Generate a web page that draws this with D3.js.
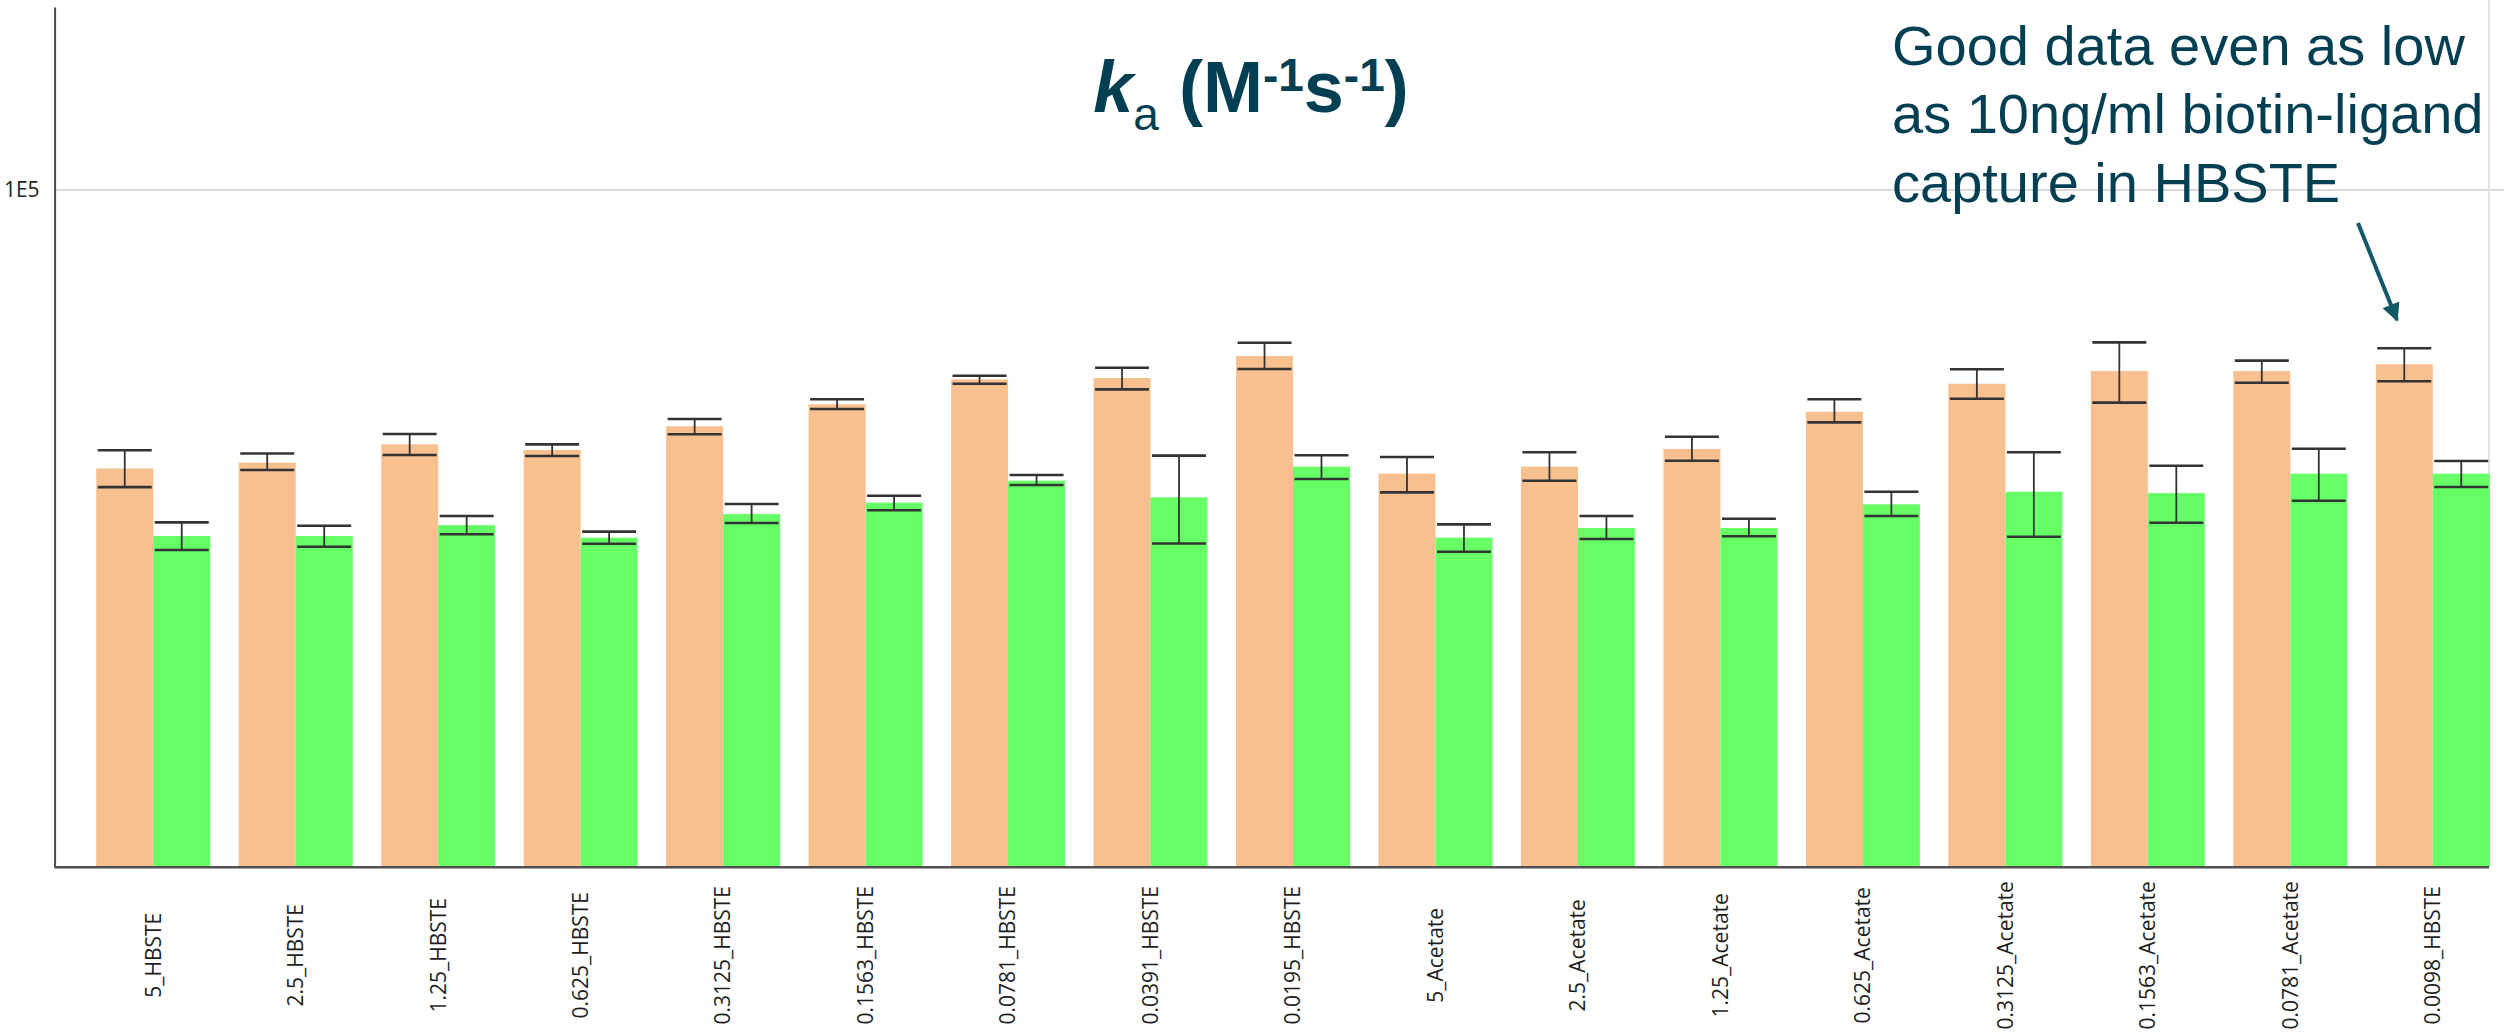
<!DOCTYPE html>
<html>
<head>
<meta charset="utf-8">
<script src="https://cdn.jsdelivr.net/npm/d3@7"></script>
<style>
  html, body { margin: 0; padding: 0; background: #ffffff; }
  svg { display: block; }
</style>
</head>
<body>
<svg id="chart" width="2504" height="1034"></svg>
<script>
// Sample conditions: ligand capture concentration (µg/ml) and running buffer
const categories = [
  "5_HBSTE", "2.5_HBSTE", "1.25_HBSTE", "0.625_HBSTE", "0.3125_HBSTE",
  "0.1563_HBSTE", "0.0781_HBSTE", "0.0391_HBSTE", "0.0195_HBSTE",
  "5_Acetate", "2.5_Acetate", "1.25_Acetate", "0.625_Acetate",
  "0.3125_Acetate", "0.1563_Acetate", "0.0781_Acetate", "0.0098_HBSTE"
];

// Association rate constant ka (M^-1 s^-1), first set (mean, lower, upper)
const kaSet1 = [38800, 39570, 42120, 41320, 44790, 48270, 52540, 52770, 56870,
                38120, 39040, 41460, 47060, 51760, 54040, 54040, 55300];
const kaSet1Low = [36420, 38600, 40620, 40490, 43590, 47500, 51760, 50780, 54410,
                   35780, 37220, 39840, 45390, 49190, 48530, 51940, 52190];
const kaSet1High = [41280, 40830, 43630, 42120, 45920, 49090, 53190, 54650, 59500,
                    40350, 41000, 43230, 49090, 54360, 59580, 55980, 58380];

// Second set (mean, lower, upper)
const kaSet2 = [30840, 30840, 32010, 30670, 33230, 34540, 37220, 35180, 39040,
                30670, 31700, 31700, 34350, 35850, 35690, 38120, 38120];
const kaSet2Low = [29410, 29740, 31020, 30040, 32230, 33660, 36680, 30070, 37440,
                   29240, 30530, 30810, 33010, 30770, 32270, 34770, 36430];
const kaSet2High = [32310, 31940, 33010, 31300, 34390, 35370, 37950, 40530, 40580,
                    32090, 33010, 32710, 35850, 41000, 39170, 41500, 39810];

const seriesColors = ["#F8BF8F", "#66FF66"];
const yTickValues = [1e5];
const yTickLabels = ["1E5"];

const svg = d3.select("#chart");
const W = 2504, H = 1034;
svg.append("rect").attr("width", W).attr("height", H).attr("fill", "#ffffff");

const axisX = 54.6, plotRight = 2489, baseY = 867.3, topY = 7;

// Log scale of ka; the visible range runs from 1E4 at the baseline upward
const y = d3.scaleLog().domain([1e4, 186300]).range([baseY, topY]);

const x0 = d3.scaleBand().domain(categories).range([82, 2504])
  .paddingInner(0.2).paddingOuter(0.1);
const x1 = d3.scaleBand().domain([0, 1]).range([0, x0.bandwidth()]).padding(0);

// Gridline at 1E5
svg.append("g").selectAll("line").data(yTickValues).join("line")
  .attr("x1", axisX).attr("x2", W)
  .attr("y1", d => y(d)).attr("y2", d => y(d))
  .attr("stroke", "#d9d9d9").attr("stroke-width", 2);

// Right border of the plot area
svg.append("line")
  .attr("x1", plotRight).attr("x2", plotRight).attr("y1", 0).attr("y2", baseY)
  .attr("stroke", "#e2e2e2").attr("stroke-width", 2);

// Rows for the grouped bars
const rows = categories.map((c, i) => ({
  cat: c,
  items: [
    { s: 0, v: kaSet1[i], lo: kaSet1Low[i], hi: kaSet1High[i] },
    { s: 1, v: kaSet2[i], lo: kaSet2Low[i], hi: kaSet2High[i] }
  ]
}));

const groups = svg.append("g").selectAll("g").data(rows).join("g")
  .attr("transform", d => `translate(${x0(d.cat)},0)`);

groups.selectAll("rect").data(d => d.items).join("rect")
  .attr("x", d => x1(d.s))
  .attr("y", d => y(d.v))
  .attr("width", x1.bandwidth())
  .attr("height", d => baseY - y(d.v))
  .attr("fill", d => seriesColors[d.s]);

// Error bars
const eb = groups.selectAll("g.err").data(d => d.items).join("g").attr("class", "err");
eb.append("line")
  .attr("x1", d => x1(d.s) + x1.bandwidth() / 2)
  .attr("x2", d => x1(d.s) + x1.bandwidth() / 2)
  .attr("y1", d => y(d.hi)).attr("y2", d => y(d.lo))
  .attr("stroke", "#333").attr("stroke-width", 1.8);
["hi", "lo"].forEach(k => {
  eb.append("line")
    .attr("x1", d => x1(d.s) + 1.5)
    .attr("x2", d => x1(d.s) + x1.bandwidth() - 1.5)
    .attr("y1", d => y(d[k])).attr("y2", d => y(d[k]))
    .attr("stroke", "#333").attr("stroke-width", 2.6);
});

// Y axis: single labelled tick at 1E5
const yAxis = d3.axisLeft(y).tickValues(yTickValues)
  .tickFormat((d, i) => yTickLabels[i]).tickSize(0).tickPadding(15);
const gy = svg.append("g").attr("transform", `translate(${axisX},0)`).call(yAxis);
gy.select(".domain").attr("stroke", "#4a4a4a").attr("stroke-width", 2);
gy.selectAll("text").attr("font-family", "'Open Sans', sans-serif")
  .attr("font-size", 21).attr("fill", "#222");

// X axis with rotated category labels
const xAxis = d3.axisBottom(x0).tickSize(0);
const gx = svg.append("g").attr("transform", `translate(0,${baseY})`).call(xAxis);
gx.select(".domain").remove();
gx.selectAll("text")
  .attr("font-family", "'Open Sans', sans-serif")
  .attr("font-size", 21).attr("fill", "#1e1e1e")
  .attr("x", 0).attr("y", 0).attr("dy", "0.35em")
  .attr("text-anchor", "middle")
  .attr("transform", "translate(0,88) rotate(-90)");

// Baseline
svg.append("line")
  .attr("x1", axisX).attr("x2", plotRight).attr("y1", baseY).attr("y2", baseY)
  .attr("stroke", "#505050").attr("stroke-width", 2.5);

// Title: ka (M-1 s-1)
const titleColor = "#023F52";
const title = svg.append("text")
  .attr("x", 1251).attr("y", 112)
  .attr("text-anchor", "middle")
  .attr("font-family", "'Liberation Sans', Arial, sans-serif")
  .attr("font-weight", "bold").attr("font-size", 72)
  .attr("fill", titleColor);
title.append("tspan").attr("font-style", "italic").text("k");
title.append("tspan").attr("font-size", 46).attr("font-weight", "normal")
  .attr("dy", 18).text("a");
title.append("tspan").attr("dy", -18).text(" (M");
title.append("tspan").attr("font-size", 46).attr("dy", -21).text("-1");
title.append("tspan").attr("dy", 21).text("s");
title.append("tspan").attr("font-size", 46).attr("dy", -21).text("-1");
title.append("tspan").attr("dy", 21).text(")");

// Annotation
const noteLines = ["Good data even as low", "as 10ng/ml biotin-ligand", "capture in HBSTE"];
svg.append("g").selectAll("text").data(noteLines).join("text")
  .attr("x", 1892).attr("y", (d, i) => 65 + i * 68.3)
  .attr("font-family", "'Liberation Sans', Arial, sans-serif")
  .attr("font-size", 56).attr("fill", "#033F52")
  .text(d => d);

// Arrow pointing at the 0.0098_HBSTE group
const arrowColor = "#125866";
const defs = svg.append("defs");
defs.append("marker").attr("id", "arrowhead")
  .attr("viewBox", "0 0 10 10").attr("refX", 9).attr("refY", 5)
  .attr("markerWidth", 5.5).attr("markerHeight", 4.5)
  .attr("markerUnits", "strokeWidth").attr("orient", "auto")
  .append("path").attr("d", "M0,0 L10,5 L0,10 Z").attr("fill", arrowColor);
svg.append("line")
  .attr("x1", 2358).attr("y1", 223).attr("x2", 2397).attr("y2", 320)
  .attr("stroke", arrowColor).attr("stroke-width", 4)
  .attr("marker-end", "url(#arrowhead)");
</script>
</body>
</html>
